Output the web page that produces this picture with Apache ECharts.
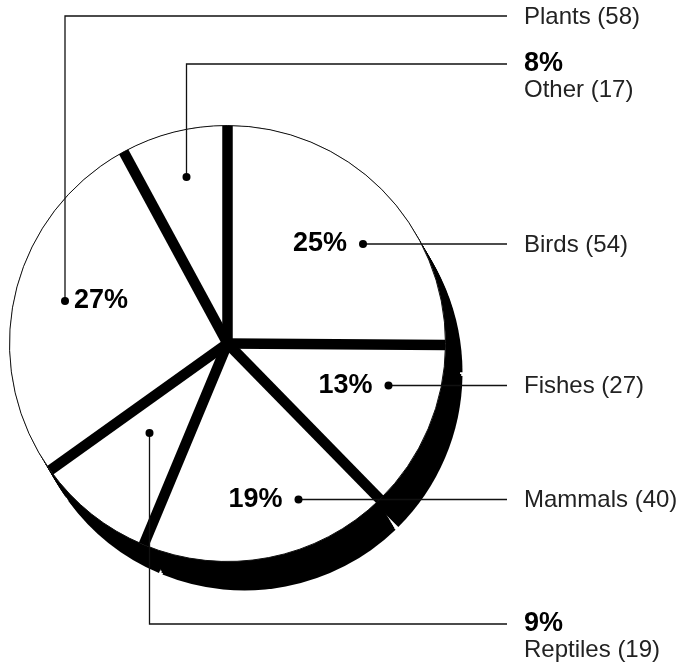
<!DOCTYPE html>
<html>
<head>
<meta charset="utf-8">
<style>
  html, body { margin: 0; padding: 0; background: #fff; }
  #chart { width: 679px; height: 667px; }
</style>
<script src="https://cdn.jsdelivr.net/npm/echarts@6.0.0/dist/echarts.min.js"></script>
</head>
<body>
<div id="chart"></div>
<script>
// ---------- data ----------
const categories = ['Birds', 'Fishes', 'Mammals', 'Reptiles', 'Plants', 'Other'];
const counts = [54, 27, 40, 19, 58, 17];

// ---------- layout / style (not data) ----------
const CENTER = [227.5, 343.5];
const RADIUS = 218;
const DEPTH = [17, 29];          // extrusion of the black "side" of the pie
const DEPTH_STEPS = 14;
const GAP_WIDTH = 10.5;          // black separators between slices
const LABEL_X = 524;
const LINE_END_X = 507;
const dotPos = [[363, 244], [388.5, 385.5], [298.5, 499.5], [149.5, 433], [65, 301], [186.5, 177]];
const lineY = [244, 385.5, 499.5, 624, 16, 64];
const innerAlign = ['right', 'right', 'right', 'center', 'left', 'center'];
const twoLine = [false, false, false, true, false, true];
const FONT = 'Liberation Sans, Arial, Helvetica, sans-serif';

const total = counts.reduce((a, b) => a + b, 0);
const pct = counts.map(v => Math.round(v / total * 100));
const pieData = categories.map((c, i) => ({ name: c, value: counts[i] }));

const series = [];

// black extruded body (layers from top face down to full depth)
for (let k = 0; k <= DEPTH_STEPS; k++) {
  const t = k / DEPTH_STEPS;
  series.push({
    type: 'pie',
    silent: true,
    z: 1,
    center: [CENTER[0] + DEPTH[0] * t, CENTER[1] + DEPTH[1] * t],
    radius: RADIUS,
    startAngle: 90,
    clockwise: true,
    padAngle: k === 0 ? 0 : 1.0,
    label: { show: false },
    labelLine: { show: false },
    itemStyle: { color: '#000', borderWidth: 0 },
    data: pieData
  });
}

// white top faces
series.push({
  type: 'pie',
  silent: true,
  z: 3,
  center: CENTER,
  radius: RADIUS,
  startAngle: 90,
  clockwise: true,
  label: { show: false },
  labelLine: { show: false },
  itemStyle: { color: '#fff', borderColor: '#111', borderWidth: 1 },
  data: pieData
});

// black separators between slices, drawn on the aligned polar system
let cum = 0;
for (let i = 0; i < counts.length; i++) {
  series.push({
    type: 'line',
    coordinateSystem: 'polar',
    silent: true,
    z: 4,
    symbol: 'none',
    animation: false,
    lineStyle: { color: '#000', width: GAP_WIDTH, cap: 'butt' },
    data: [[0, cum], [1, cum]]
  });
  cum += counts[i];
}

// outer labels with leader lines
series.push({
  type: 'pie',
  silent: true,
  z: 6,
  center: CENTER,
  radius: RADIUS,
  startAngle: 90,
  clockwise: true,
  avoidLabelOverlap: false,
  itemStyle: { color: 'rgba(0,0,0,0)' },
  label: {
    show: true,
    position: 'outside',
    formatter: p => {
      const i = p.dataIndex;
      const nm = '{n|' + categories[i] + ' (' + counts[i] + ')}';
      return twoLine[i] ? '{p|' + pct[i] + '%}\n' + nm : nm;
    },
    rich: {
      n: { fontFamily: FONT, fontSize: 24, color: '#222', lineHeight: 24 },
      p: { fontFamily: FONT, fontSize: 27, fontWeight: 'bold', color: '#000', lineHeight: 28 }
    }
  },
  labelLine: { show: true, lineStyle: { color: '#111', width: 1.3 } },
  labelLayout: p => {
    const i = p.dataIndex;
    const d = dotPos[i];
    return {
      x: LABEL_X,
      y: twoLine[i] ? lineY[i] - 14 : lineY[i] + 1,
      align: 'left',
      verticalAlign: twoLine[i] ? 'top' : 'middle',
      labelLinePoints: [[d[0], d[1]], [d[0], lineY[i]], [LINE_END_X, lineY[i]]]
    };
  },
  data: pieData
});

// inner percentage labels with anchor dots
series.push({
  type: 'pie',
  silent: true,
  z: 7,
  center: CENTER,
  radius: RADIUS,
  startAngle: 90,
  clockwise: true,
  avoidLabelOverlap: false,
  itemStyle: { color: 'rgba(0,0,0,0)' },
  label: {
    show: true,
    position: 'inside',
    formatter: p => {
      const i = p.dataIndex;
      if (innerAlign[i] === 'center') return '{d|}';
      if (innerAlign[i] === 'left') return '{d|}{s2|}{t|' + pct[i] + '%}';
      return '{t|' + pct[i] + '%}{s|}{d|}';
    },
    rich: {
      t: { fontFamily: FONT, fontSize: 27, fontWeight: 'bold', color: '#000', lineHeight: 30 },
      s: { width: 12 },
      s2: { width: 5 },
      d: { width: 8, height: 8, borderRadius: 4, backgroundColor: '#000' }
    }
  },
  labelLine: { show: false },
  labelLayout: p => {
    const i = p.dataIndex;
    const d = dotPos[i];
    let x = d[0];
    if (innerAlign[i] === 'right') x = d[0] + 4;
    if (innerAlign[i] === 'left') x = d[0] - 4;
    return { x: x, y: d[1], align: innerAlign[i], verticalAlign: 'middle' };
  },
  data: pieData
});

const chart = echarts.init(document.getElementById('chart'), null, { renderer: 'canvas' });
chart.setOption({
  animation: false,
  backgroundColor: '#fff',
  polar: { center: CENTER, radius: RADIUS },
  angleAxis: { type: 'value', min: 0, max: total, startAngle: 90, clockwise: true, show: false },
  radiusAxis: { type: 'value', min: 0, max: 1, show: false },
  series: series
});
</script>
</body>
</html>
